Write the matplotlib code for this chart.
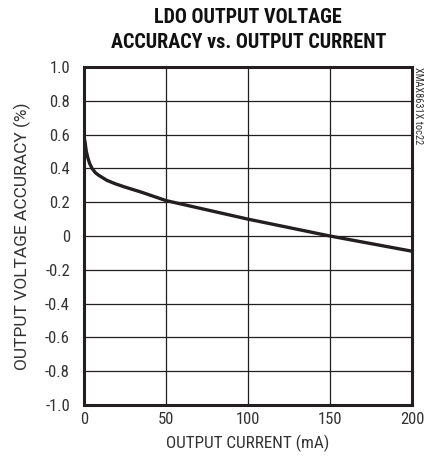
import matplotlib
matplotlib.use('Agg')
import matplotlib.pyplot as plt

# data
current_ma = [0.5, 1.5, 2.5, 3.5, 5, 7, 9, 14, 19, 25, 35, 50, 75, 100, 125, 150, 175, 200]
accuracy_pct = [0.57, 0.50, 0.46, 0.43, 0.40, 0.375, 0.36, 0.33, 0.31, 0.29, 0.26, 0.21, 0.155, 0.10, 0.05, 0.0, -0.045, -0.09]

x_ticks = [0, 50, 100, 150, 200]
y_ticks = [1.0, 0.8, 0.6, 0.4, 0.2, 0.0, -0.2, -0.4, -0.6, -0.8, -1.0]
y_labels = ['1.0', '0.8', '0.6', '0.4', '0.2', '0', '-0.2', '-0.4', '-0.6', '-0.8', '-1.0']

plt.rcParams['font.family'] = ['Roboto Condensed', 'DejaVu Sans']

fig = plt.figure(figsize=(4.28, 4.57), dpi=100)
ax = fig.add_axes([0.196, 0.114, 0.767, 0.739])

ax.plot(current_ma, accuracy_pct, color='#231f20', linewidth=2.4, solid_capstyle='butt')

ax.set_xlim(0, 200)
ax.set_ylim(-1.0, 1.0)
ax.set_xticks(x_ticks)
ax.set_yticks(y_ticks)
ax.set_yticklabels(y_labels)
ax.tick_params(length=0, labelsize=12, colors='#333333')
ax.tick_params(axis='y', pad=10)
ax.tick_params(axis='x', pad=5)
ax.grid(True, color='#231f20', linewidth=0.9)
for s in ax.spines.values():
   s.set_linewidth(2.2)
   s.set_color('#231f20')

ax.set_xlabel('OUTPUT CURRENT (mA)', fontsize=12.3, color='#333333', labelpad=6)
ax.set_ylabel('OUTPUT VOLTAGE ACCURACY (%)', fontsize=12.5, color='#333333', labelpad=10,
              family=['Roboto', 'DejaVu Sans'])

fig.text(0.58, 0.962, 'LDO OUTPUT VOLTAGE', ha='center', va='center', fontsize=14.5, fontweight='heavy', color='#111111')
fig.text(0.58, 0.908, 'ACCURACY vs. OUTPUT CURRENT', ha='center', va='center', fontsize=14.5, fontweight='heavy', color='#111111')
fig.text(0.977, 0.853, 'XMAX8631X toc22', rotation=270, ha='center', va='top', fontsize=7.5, color='#333333')

fig.savefig('out.png', dpi=100)
